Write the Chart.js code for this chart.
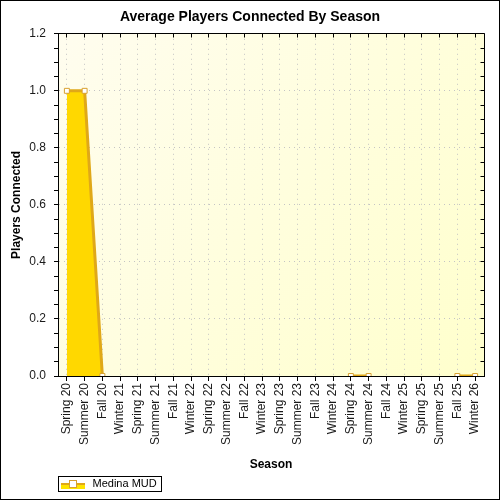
<!DOCTYPE html>
<html>
<head>
<meta charset="utf-8">
<script src="https://cdn.jsdelivr.net/npm/chart.js@4.4.0/dist/chart.umd.min.js"></script>
<style>
  html, body { margin: 0; padding: 0; background: #fff; }
  #wrap { width: 500px; height: 500px; box-sizing: border-box; border: 1px solid #000; }
  canvas { display: block; }
</style>
</head>
<body>
<div id="wrap"><canvas id="myChart" width="498" height="498"></canvas></div>
<script>
var seasons = [
  "Spring 20", "Summer 20", "Fall 20", "Winter 21", "Spring 21", "Summer 21",
  "Fall 21", "Winter 22", "Spring 22", "Summer 22", "Fall 22", "Winter 23",
  "Spring 23", "Summer 23", "Fall 23", "Winter 24", "Spring 24", "Summer 24",
  "Fall 24", "Winter 25", "Spring 25", "Summer 25", "Fall 25", "Winter 26"
];
// null = no data for that season (gap in the line)
var players = [
  1, 1, 0, null, null, null, null, null, null, null, null, null,
  null, null, null, null, 0, 0, null, null, null, null, 0, 0
];
var seriesName = "Medina MUD";
var yMin = 0;
var yMax = 1.2;
var yMajorStep = 0.2;
var yMinorStep = 0.05;

function isMajor(v) {
  var r = v / yMajorStep;
  return Math.abs(r - Math.round(r)) < 1e-6;
}

function align(p) {
  return Math.round(p - 0.5) + 0.5;
}

// plot background, frame with inner ticks, legend box
var framePlugin = {
  id: "frame",
  beforeDraw: function (chart) {
    var a = chart.chartArea;
    var ctx = chart.ctx;
    var g = ctx.createLinearGradient(a.left, a.top, a.right, a.bottom);
    g.addColorStop(0, "#fffdef");
    g.addColorStop(1, "#ffffcc");
    ctx.save();
    ctx.fillStyle = g;
    ctx.fillRect(a.left, a.top, a.right - a.left, a.bottom - a.top);
    ctx.restore();
  },
  afterDraw: function (chart) {
    var a = chart.chartArea;
    var ctx = chart.ctx;
    var xs = chart.scales.x;
    var ys = chart.scales.y;
    var l = align(a.left), r = align(a.right), t = align(a.top), b = align(a.bottom);
    ctx.save();
    ctx.strokeStyle = "#000";
    ctx.lineWidth = 1;
    ctx.beginPath();
    ctx.rect(l, t, r - l, b - t);
    for (var i = 0; i < xs.ticks.length; i++) {
      var px = align(xs.getPixelForTick(i));
      ctx.moveTo(px, t);
      ctx.lineTo(px, t + 4);
    }
    for (var j = 0; j < ys.ticks.length; j++) {
      var py = align(ys.getPixelForTick(j));
      ctx.moveTo(r - 4, py);
      ctx.lineTo(r, py);
    }
    ctx.stroke();

    // legend symbol + frame
    var lg = chart.legend;
    if (lg && lg.legendHitBoxes && lg.legendHitBoxes.length) {
      var hb = lg.legendHitBoxes[0];
      var cy = Math.round(hb.top + hb.height / 2);
      var sx = Math.round(hb.left);
      ctx.fillStyle = "#ffe400";
      ctx.fillRect(sx, cy, 24, 5);
      ctx.strokeStyle = "#e0a818";
      ctx.lineWidth = 2;
      ctx.beginPath();
      ctx.moveTo(sx, cy);
      ctx.lineTo(sx + 24, cy);
      ctx.stroke();
      ctx.fillStyle = "#fff";
      ctx.strokeStyle = "#d8a030";
      ctx.lineWidth = 1;
      ctx.fillRect(sx + 9, cy - 3, 6, 6);
      ctx.strokeRect(sx + 8.5, cy - 3.5, 7, 7);
      ctx.strokeStyle = "#000";
      ctx.strokeRect(align(a.left), align(hb.top - 2), Math.round(hb.left + hb.width + 4 - a.left), Math.round(hb.height + 4));
    }
    ctx.restore();
  }
};

var ctx = document.getElementById("myChart").getContext("2d");
Chart.defaults.font.family = "'Liberation Sans', Arial, sans-serif";

var myChart = new Chart(ctx, {
  type: "line",
  data: {
    labels: seasons,
    datasets: [
      {
        label: seriesName,
        data: players,
        fill: "origin",
        backgroundColor: "#ffd800",
        borderColor: "#e0a818",
        borderWidth: 3,
        tension: 0,
        spanGaps: false,
        pointStyle: "rect",
        pointRadius: 3.5,
        pointBackgroundColor: "#ffffff",
        pointBorderColor: "#d8a030",
        pointBorderWidth: 1,
        clip: 0,
      },
    ],
  },
  options: {
    responsive: false,
    animation: false,
    layout: { padding: 0 },
    plugins: {
      title: {
        display: true,
        text: "Average Players Connected By Season",
        color: "#000",
        font: { size: 14, weight: "bold" },
        padding: { top: 8, bottom: 8 },
      },
      legend: {
        position: "bottom",
        align: "start",
        fullSize: false,
        labels: {
          padding: 3,
          boxWidth: 26,
          boxHeight: 10,
          color: "#000",
          font: { size: 11 },
          generateLabels: function (chart) {
            var items = Chart.defaults.plugins.legend.labels.generateLabels(chart);
            items.forEach(function (it) {
              it.fillStyle = "rgba(0,0,0,0)";
              it.strokeStyle = "rgba(0,0,0,0)";
              it.lineWidth = 0;
            });
            return items;
          },
        },
      },
      tooltip: { enabled: false },
    },
    scales: {
      x: {
        offset: true,
        grid: { color: "#c4c4c4", tickColor: "#000", tickLength: 5 },
        border: { display: true, color: "#000", width: 1, dash: [1, 4] },
        ticks: {
          autoSkip: false,
          maxRotation: 90,
          minRotation: 90,
          padding: 2,
          color: "#1a1a1a",
          font: { size: 12 },
        },
        title: {
          display: true,
          text: "Season",
          color: "#000",
          font: { size: 12, weight: "bold" },
          padding: { top: 0, bottom: 3 },
        },
        afterFit: function (scale) {
          scale.height = 99;
        },
      },
      y: {
        min: yMin,
        max: yMax,
        grid: {
          color: function (c) {
            return c.tick && isMajor(c.tick.value) ? "#c4c4c4" : "rgba(0,0,0,0)";
          },
          tickColor: "#000",
          tickLength: 4,
        },
        border: { display: true, color: "#000", width: 1, dash: [1, 4] },
        ticks: {
          stepSize: yMinorStep,
          autoSkip: false,
          padding: 8,
          color: "#1a1a1a",
          font: { size: 12 },
          callback: function (v) {
            return isMajor(v) ? Number(v).toFixed(1) : "";
          },
        },
        title: {
          display: true,
          text: "Players Connected",
          color: "#000",
          font: { size: 12, weight: "bold" },
          padding: { top: 8, bottom: 0 },
        },
        afterFit: function (scale) {
          scale.width = 57;
        },
      },
      // empty right-hand spacer so the title stays centred on the whole canvas
      yRight: {
        position: "right",
        display: true,
        ticks: { display: false },
        grid: { display: false },
        border: { display: false },
        afterFit: function (scale) {
          scale.width = 15;
        },
      },
    },
  },
  plugins: [framePlugin],
});
</script>
</body>
</html>
